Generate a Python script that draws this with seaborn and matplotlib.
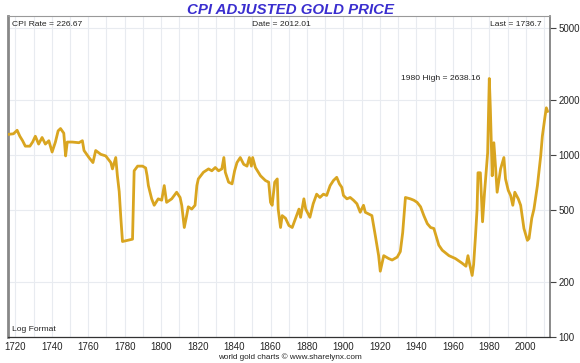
import matplotlib
matplotlib.use("Agg")
import matplotlib.pyplot as plt
import matplotlib.ticker as mticker
import seaborn as sns
import pandas as pd

years = [1716, 1719, 1721, 1722.5, 1724, 1725.5, 1728, 1729.5, 1731, 1732.8, 1734.7, 1736.5,
         1738.4, 1740.2, 1742, 1743.5, 1744.8, 1746.6, 1747.6, 1748.5, 1751.2, 1754.9, 1756.8,
         1757.7, 1760.4, 1762.6, 1764.1, 1766.9, 1769.6, 1772.4, 1773.3, 1775.1, 1776, 1777,
         1777.9, 1778.8, 1784.3, 1785.2, 1787.1, 1789.8, 1791.5, 1792.3,
         1793.0, 1794.8, 1796.2, 1798.4, 1800.3, 1801.7, 1803.0, 1805.8, 1808.5, 1810.4,
         1811.3, 1812.7, 1814.0, 1814.9, 1816.8, 1818.6, 1819.6, 1820.4, 1823.2, 1826.0,
         1827.8, 1829.7, 1831.5, 1833.3, 1834.4, 1835.2, 1837.0, 1838.9, 1840.3, 1841.6,
         1843.4, 1845.3, 1847.1, 1848.4, 1849.5, 1850.2, 1851.7, 1854.5, 1857.2, 1859.0,
         1860.0, 1860.9, 1862.3, 1863.7, 1864.2, 1865.5, 1866.4, 1868.2, 1870.1, 1871.9,
         1873.8, 1875.6, 1876.5, 1878.3, 1879.3, 1881.6, 1883.4, 1885.3, 1887.1, 1889.0,
         1890.8, 1892.7, 1894.5, 1896.3, 1897.8, 1899.1, 1900.0, 1901.9, 1903.7, 1905.5,
         1907.4, 1909.2, 1911.0, 1912.0, 1915.6, 1917.5, 1919.3, 1920.2, 1922.1, 1924.8,
         1926.7, 1929.5, 1931.2, 1932.5, 1934.0, 1936.7, 1938.6, 1940.4, 1942.3, 1944.1,
         1946.0, 1947.8, 1949.6, 1952.3, 1954.2, 1957.9, 1961.4, 1965.0, 1967.2, 1968.3,
         1969.1, 1970.6, 1971.4, 1972.4, 1973.3, 1973.8, 1975.1, 1976.3, 1977.4, 1979.1,
         1980.0, 1980.6, 1981.6, 1982.5, 1983.4, 1984.3, 1986.2, 1988.0, 1988.9, 1990.4,
         1991.7, 1992.9, 1994.0, 1995.9, 1997.2, 1999.0, 2000.9, 2001.8, 2003.3, 2004.5,
         2006.4, 2008.2, 2009.1, 2010.6, 2011.3, 2012.0]
values = [1300, 1310, 1370, 1270, 1200, 1120, 1120, 1180, 1270, 1150, 1250, 1150,
          1200, 1040, 1180, 1360, 1400, 1320, 990, 1180, 1180, 1170, 1200,
          1060, 970, 910, 1060, 1010, 990, 910, 840, 970, 770, 630,
          450, 335, 345, 820, 870, 870, 850, 770,
          680, 575, 530, 575, 565, 680, 550, 575, 625, 585,
          530, 400, 465, 520, 505, 530, 680, 740, 805, 840,
          820, 855, 820, 840, 970, 805, 710, 695, 820, 910,
          970, 890, 870, 970, 870, 970, 855, 770, 725, 710,
          550, 530, 710, 740, 505, 400, 465, 450, 410, 400,
          450, 505, 455, 575, 505, 455, 540, 610, 585, 610,
          600, 680, 725, 755, 695, 665, 600, 575, 585, 565,
          540, 485, 530, 485, 465, 360, 280, 230, 280, 270,
          265, 275, 295, 375, 585, 575, 565, 550, 520, 465,
          420, 400, 395, 320, 300, 280, 270, 255, 245, 280,
          255, 218, 250, 355, 505, 800, 800, 430, 625, 1030,
          2638.16, 1780, 770, 1170, 870, 625, 840, 970, 740, 640,
          600, 530, 625, 575, 530, 395, 340, 348, 450, 505,
          680, 990, 1270, 1640, 1820, 1736.7]

y_ticks = [100, 200, 500, 1000, 2000, 5000]
x_ticks = list(range(1720, 2001, 20))

df = pd.DataFrame({"year": years, "price": values})

sns.set_style("white")
plt.rcParams['font.family'] = ['Liberation Sans', 'DejaVu Sans']

fig = plt.figure(figsize=(5.8, 3.63), dpi=100)
ax = fig.add_axes([8/580, 1 - 337/363, 542/580, 321/363])

ax.set_yscale('log')
ax.set_xlim(1716, 2013.3)
ax.set_ylim(100, 5820)

# grid
for x in range(1720, 2011, 10):
    ax.axvline(x, color='#e8ebf0', lw=0.8, zorder=0)
for y in y_ticks:
    ax.axhline(y, color='#e8ebf0', lw=0.8, zorder=0)

sns.lineplot(data=df, x="year", y="price", ax=ax, color='#D9A520', lw=2.0,
             estimator=None, sort=False, zorder=3)

ax.yaxis.tick_right()
ax.set_yticks(y_ticks)
ax.yaxis.set_major_formatter(mticker.FuncFormatter(lambda v, p: f"{int(v)}"))
ax.yaxis.set_minor_locator(mticker.NullLocator())
ax.set_xticks(x_ticks)
ax.set_xticklabels([str(x) for x in x_ticks])
ax.xaxis.set_minor_locator(mticker.MultipleLocator(10))
ax.tick_params(axis='x', which='major', direction='out', length=2.5, width=0.8, labelsize=7,
               color='#444444', pad=1)
ax.tick_params(axis='x', which='minor', direction='out', length=2.5, width=0.8, color='#444444')
ax.tick_params(axis='y', which='major', direction='out', length=4, width=0.8, labelsize=7,
               color='#444444', pad=2, right=True, left=False)
ax.set_xlabel("")
ax.set_ylabel("")

ax.spines['left'].set_color('#888888')
ax.spines['left'].set_linewidth(2)
ax.spines['right'].set_color('#777777')
ax.spines['right'].set_linewidth(1.2)
ax.spines['bottom'].set_color('#333333')
ax.spines['bottom'].set_linewidth(0.9)
ax.spines['top'].set_color('#999999')
ax.spines['top'].set_linewidth(0.8)

# annotations
fs = 6.1
ax.text(0.008, 0.985, "CPI Rate = 226.67", transform=ax.transAxes, fontsize=fs,
        ha='left', va='top', color='#222222')
ax.text((281 - 8) / 542, 0.985, "Date = 2012.01", transform=ax.transAxes, fontsize=fs,
        ha='center', va='top', color='#222222')
ax.text((542 - 8) / 542, 0.985, "Last = 1736.7", transform=ax.transAxes, fontsize=fs,
        ha='right', va='top', color='#222222')
ax.text(0.008, 0.012, "Log Format", transform=ax.transAxes, fontsize=fs,
        ha='left', va='bottom', color='#222222')
ax.text((480 - 8) / 542, (337 - 79) / 321, "1980 High = 2638.16", transform=ax.transAxes,
        fontsize=fs, ha='right', va='center', color='#222222')

fig.text(291/580, 1 - 10/363, "CPI ADJUSTED GOLD PRICE", ha='center', va='center',
         fontsize=10.8, fontweight='bold', fontstyle='italic', color='#3a2ecf')
fig.text(290/580, 1 - 357/363, "world gold charts \u00a9 www.sharelynx.com", ha='center',
         va='center', fontsize=5.9, color='#222222')

fig.savefig("out.png", dpi=100)
